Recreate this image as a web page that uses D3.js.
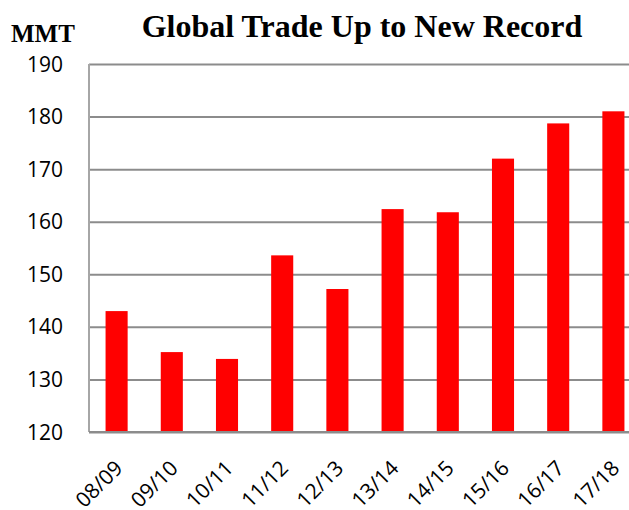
<!DOCTYPE html>
<html>
<head>
<meta charset="utf-8">
<script src="https://cdn.jsdelivr.net/npm/d3@7"></script>
<style>
  body { margin: 0; background: #fff; }
  .grid line { stroke: #8c8c8c; stroke-width: 2; }
  .grid path { display: none; }
</style>
</head>
<body>
<div class="chart"></div>
<script>
// marketing years and trade volumes (MMT)
var years = ["08/09", "09/10", "10/11", "11/12", "12/13", "13/14", "14/15", "15/16", "16/17", "17/18"];
var trade = [143.0, 135.2, 133.9, 153.6, 147.2, 162.4, 161.8, 172.0, 178.7, 181.0];
var yTicks = [120, 130, 140, 150, 160, 170, 180, 190];

var margin = {top: 64, right: 0, bottom: 78, left: 89}
  , width = 629 - margin.left - margin.right
  , height = 510 - margin.top - margin.bottom;

var data = years.map(function(y, i) { return {year: y, value: trade[i]}; });

// plot area runs a little past the right edge of the picture
var xScale = d3.scaleBand()
    .domain(years)
    .range([0, 552])
    .paddingInner(0.6)
    .paddingOuter(0.3);

var yScale = d3.scaleLinear()
    .domain([120, 190])
    .range([height, 0]);

var svg = d3.select(".chart").append("svg")
    .attr("width", 629)
    .attr("height", 510)
  .append("g")
    .attr("transform", "translate(" + margin.left + "," + margin.top + ")");

// horizontal gridlines
svg.append("g")
    .attr("class", "grid")
    .call(d3.axisLeft(yScale).tickValues(yTicks).tickSize(-560).tickFormat(""));

// left axis line
svg.append("line")
    .attr("x1", 0).attr("x2", 0)
    .attr("y1", 0).attr("y2", height)
    .style("stroke", "#a6a6a6")
    .style("stroke-width", 2);

// y tick labels
svg.selectAll(".ylab")
    .data(yTicks)
  .enter().append("text")
    .attr("class", "ylab")
    .attr("x", -26)
    .attr("y", function(d) { return yScale(d); })
    .attr("dy", "0.36em")
    .attr("text-anchor", "end")
    .style("font-family", "'Open Sans', sans-serif")
    .style("font-size", "21px")
    .style("fill", "#000")
    .text(function(d) { return d; });

// bars
svg.selectAll(".bar")
    .data(data)
  .enter().append("rect")
    .attr("class", "bar")
    .attr("x", function(d) { return xScale(d.year); })
    .attr("width", xScale.bandwidth())
    .attr("y", function(d) { return yScale(d.value); })
    .attr("height", function(d) { return height - yScale(d.value); })
    .style("fill", "#ff0000");

// bottom axis line (drawn over the bars)
svg.append("line")
    .attr("x1", 0).attr("x2", 560)
    .attr("y1", height).attr("y2", height)
    .style("stroke", "#8c8c8c")
    .style("stroke-width", 2);

// rotated category labels
svg.selectAll(".xlab")
    .data(years)
  .enter().append("text")
    .attr("class", "xlab")
    .attr("transform", function(d) {
      var cx = xScale(d) + xScale.bandwidth() / 2 - 3;
      return "translate(" + cx + "," + (height + 27) + ") rotate(-45)";
    })
    .attr("text-anchor", "end")
    .attr("dy", "0.7em")
    .style("font-family", "'Open Sans', sans-serif")
    .style("font-size", "21px")
    .style("fill", "#000")
    .text(function(d) { return d; });

// title and unit label
svg.append("text")
    .attr("x", 362 - margin.left)
    .attr("y", 37 - margin.top)
    .attr("text-anchor", "middle")
    .style("font-family", "'Liberation Serif', 'Times New Roman', serif")
    .style("font-weight", "bold")
    .style("font-size", "32px")
    .text("Global Trade Up to New Record");

svg.append("text")
    .attr("x", 11 - margin.left)
    .attr("y", 42 - margin.top)
    .style("font-family", "'Liberation Serif', 'Times New Roman', serif")
    .style("font-weight", "bold")
    .style("font-size", "25px")
    .text("MMT");
</script>
</body>
</html>
